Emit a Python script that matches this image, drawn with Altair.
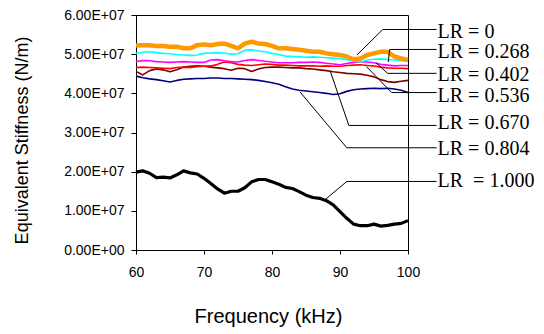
import altair as alt
import pandas as pd

# Frequency (kHz)
freq = list(range(60, 101))

# Equivalent stiffness, in units of 1e6 N/m
lr_0000 = [52.2, 52.3, 52.3, 52.1, 52.1, 51.9, 51.9, 51.5, 51.5, 52.3,
           52.5, 52.3, 52.6, 52.7, 52.1, 51.5, 52.7, 53.2, 52.7, 52.6,
           52.1, 51.5, 51.5, 51.3, 51.1, 50.9, 50.6, 50.6, 50.2, 50.0,
           49.8, 49.4, 48.7, 48.9, 49.8, 50.2, 50.6, 50.6, 49.4, 48.9, 48.5]
lr_0268 = [50.2, 50.5, 50.6, 50.4, 50.2, 50.1, 49.9, 49.8, 49.7, 49.8,
           50.2, 50.3, 50.4, 50.3, 50.0, 50.1, 51.0, 51.1, 50.8, 50.6,
           50.2, 49.9, 49.5, 49.4, 49.3, 49.2, 49.3, 49.2, 49.1, 49.0,
           48.9, 48.6, 48.2, 48.0, 48.5, 48.7, 48.8, 48.6, 48.5, 48.3, 48.2]
lr_0402 = [48.1, 48.4, 48.3, 48.1, 48.0, 47.9, 48.0, 48.1, 48.0, 47.9,
           47.9, 48.5, 48.6, 48.3, 48.1, 48.0, 48.4, 48.6, 48.4, 48.2,
           48.0, 47.8, 47.8, 47.8, 47.9, 47.9, 48.0, 47.9, 47.7, 47.5,
           47.3, 47.6, 47.9, 48.1, 48.0, 47.8, 47.4, 47.2, 47.0, 47.1, 47.1]
lr_0536 = [46.6, 46.7, 46.6, 46.5, 46.4, 46.3, 46.6, 46.7, 46.6, 46.8,
           46.9, 47.0, 47.4, 48.0, 47.8, 47.4, 47.2, 47.1, 47.3, 47.5,
           47.4, 47.2, 47.2, 47.1, 47.0, 47.0, 47.0, 46.9, 47.0, 46.9,
           46.9, 47.1, 47.2, 47.3, 47.1, 47.0, 46.7, 46.5, 46.4, 46.4, 46.3]
lr_0670 = [45.6, 44.7, 45.8, 46.2, 46.0, 45.5, 46.0, 46.7, 46.9, 47.0,
           46.9, 46.7, 46.5, 46.3, 45.9, 46.4, 46.3, 45.6, 46.2, 46.6,
           46.7, 46.7, 46.6, 46.5, 46.5, 46.3, 46.2, 46.0, 45.8, 45.5,
           45.3, 45.1, 45.0, 44.9, 44.6, 44.2, 43.5, 43.0, 42.8, 43.1, 43.3]
lr_0804 = [44.4, 44.0, 43.7, 43.5, 43.2, 42.9, 43.3, 43.6, 43.7, 43.8,
           43.8, 43.9, 43.9, 43.8, 43.8, 43.7, 43.6, 43.5, 43.3, 43.0,
           42.7, 42.3, 41.7, 41.1, 40.8, 40.6, 40.4, 40.2, 40.0, 39.7,
           39.9, 40.5, 40.9, 41.1, 41.2, 41.3, 41.2, 41.3, 41.1, 40.8, 40.2]
lr_1000 = [19.9, 20.2, 19.6, 18.5, 18.6, 18.4, 19.2, 20.2, 19.7, 19.4,
           18.3, 17.0, 15.6, 14.5, 15.0, 15.0, 15.9, 17.4, 18.0, 18.0,
           17.4, 16.8, 16.0, 15.7, 14.9, 14.0, 13.4, 13.2, 12.6, 11.5,
           9.8, 8.1, 6.6, 6.2, 6.2, 6.6, 6.1, 6.3, 6.6, 6.8, 7.5]

series_names = ["LR = 0", "LR = 0.268", "LR = 0.402", "LR = 0.536",
                "LR = 0.670", "LR = 0.804", "LR\u00a0 = 1.000"]
series_values = [lr_0000, lr_0268, lr_0402, lr_0536, lr_0670, lr_0804, lr_1000]
series_colors = ["#FF9900", "#00FFFF", "#FF00FF", "#FF0000", "#800000", "#000080", "#000000"]
series_widths = [4.5, 1.6, 1.6, 1.6, 1.6, 1.6, 3.2]

# label anchor (kHz, 1e6 N/m) and leader polyline points
label_x = [104.2] * 7
label_y = [55.7, 50.6, 44.7, 39.3, 32.4, 25.7, 17.6]
leader_x = [[104.2, 96.3, 92.5], [104.2, 97.3, 97.1], [104.2, 97.0, 95.3],
            [104.2, 97.6, 93.9], [104.2, 91.3, 88.6], [104.2, 91.0, 84.1],
            [104.2, 91.0, 87.9]]
leader_y = [[56.3, 56.3, 49.8], [51.2, 51.2, 48.0], [45.1, 45.1, 47.8],
            [40.2, 40.2, 46.8], [31.8, 31.8, 45.5], [26.1, 26.1, 40.4],
            [17.5, 17.5, 13.0]]

xscale = alt.Scale(domain=[60, 100], nice=False, zero=False)
yscale = alt.Scale(domain=[0, 6e7], nice=False)

y_label_expr = "datum.value == 0 ? '0.00E+00' : format(datum.value / 1e7, '.2f') + 'E+07'"

xaxis = alt.Axis(title="Frequency (kHz)", values=[60, 70, 80, 90, 100],
                 grid=False, tickSize=4, labelPadding=11, labelFlush=False,
                 titleX=132, titleY=72, titleBaseline="alphabetic",
                 titleAlign="center")
yaxis = alt.Axis(title="Equivalent Stiffness (N/m)",
                 values=[0, 1e7, 2e7, 3e7, 4e7, 5e7, 6e7],
                 labelExpr=y_label_expr, grid=False, tickSize=5, labelFlush=False,
                 labelPadding=7, titleX=-109, titleY=125,
                 titleAngle=270, titleBaseline="alphabetic",
                 titleAlign="center")


def X():
    return alt.X("f:Q", scale=xscale, axis=xaxis)


def Y():
    return alt.Y("k:Q", scale=yscale, axis=yaxis)


layers = []
draw_order = [5, 4, 3, 2, 1, 0, 6]
for i in draw_order:
    df = pd.DataFrame({"f": freq, "k": [v * 1e6 for v in series_values[i]]})
    layers.append(
        alt.Chart(df).mark_line(color=series_colors[i], strokeWidth=series_widths[i],
                                strokeJoin="round", clip=False)
        .encode(x=X(), y=Y())
    )

lead_rows = []
for i in range(7):
    for j in range(3):
        lead_rows.append({"s": i, "o": j, "f": leader_x[i][j], "k": leader_y[i][j] * 1e6})
lead_df = pd.DataFrame(lead_rows)
leaders = alt.Chart(lead_df).mark_line(color="black", strokeWidth=1, clip=False).encode(
    x=X(), y=Y(), detail="s:N", order="o:Q",
)

lab_df = pd.DataFrame({"t": series_names, "f": label_x, "k": [v * 1e6 for v in label_y]})
labels = alt.Chart(lab_df).mark_text(
    align="left", baseline="middle", font="Liberation Serif", fontSize=20,
    color="black", clip=False, dx=1
).encode(x=X(), y=Y(), text="t:N")

chart = alt.layer(*layers, leaders, labels).properties(
    width=272, height=235,
    autosize=alt.AutoSizeParams(type="none"),
    padding={"left": 136, "top": 15, "right": 136, "bottom": 84},
    background="white",
).configure_view(
    stroke="black", strokeWidth=1
).configure_axis(
    domainColor="black", tickColor="black", labelColor="black", titleColor="black",
    labelFont="Liberation Sans", titleFont="Liberation Sans",
    labelFontSize=14, titleFontWeight="normal", domainWidth=1, tickWidth=1,
).configure_axisX(
    titleFontSize=20
).configure_axisY(
    titleFontSize=18
)

chart.save("out.html", embed_options={"renderer": "svg", "actions": False})
